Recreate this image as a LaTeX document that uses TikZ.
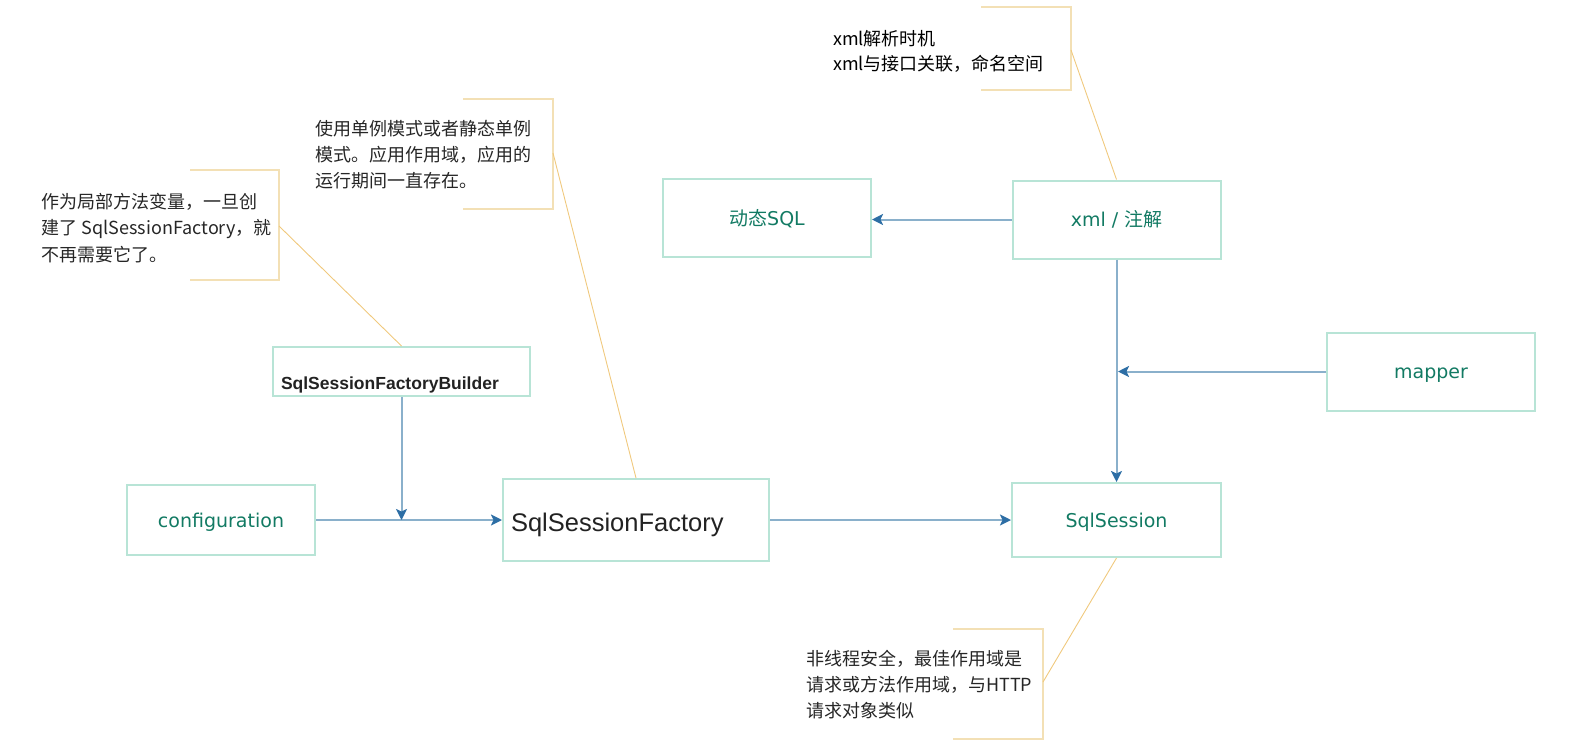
\documentclass[tikz,border=0pt]{standalone}
\usepackage{fontspec}
\setmainfont{DejaVu Sans}
\newfontfamily\cjk{Noto Sans CJK SC}
\newfontfamily\helv{Liberation Sans}
\usetikzlibrary{arrows.meta}
\definecolor{boxgreen}{HTML}{B8E4D6}
\definecolor{labteal}{HTML}{127A63}
\definecolor{lineblue}{HTML}{8AB0CB}
\definecolor{tipblue}{HTML}{2D6EA5}
\definecolor{notebr}{HTML}{F3E0B5}
\definecolor{notecon}{HTML}{F0C97E}
\definecolor{notetxt}{HTML}{262626}
\definecolor{darktxt}{HTML}{222222}
\begin{document}
\begin{tikzpicture}[x=1pt,y=-1pt,
 box/.style={draw=boxgreen,line width=2pt,inner sep=0pt,text=labteal,font=\fontsize{19}{22}\selectfont,text height=18pt,text depth=4pt},
 arr/.style={draw=lineblue,line width=2pt,-{Stealth[length=11pt,width=11pt,inset=2.5pt,color=tipblue]}},
 bracket/.style={draw=notebr,line width=2pt},
 notelink/.style={draw=notecon,line width=0.9pt},
 notetext/.style={anchor=north west,inner sep=0pt,align=left,text=notetxt,font=\cjk\fontsize{18}{26.3}\selectfont}]
\useasboundingbox (0,0) rectangle (1580,750);

% boxes
\node[box,minimum width=188pt,minimum height=70pt] (conf) at (221,520) {configuration};
\node[box,minimum width=257pt,minimum height=49pt,text=darktxt,font=\helv\bfseries\fontsize{17.5}{20}\selectfont,text width=241pt,align=left,text height=36pt,text depth=0pt] (builder) at (401.5,371.5) {SqlSessionFactoryBuilder};
\node[box,minimum width=266pt,minimum height=82pt,text=darktxt,font=\helv\fontsize{25.5}{30}\selectfont,text width=250pt,align=left,text height=26pt,text depth=4pt] (ssf) at (636,520) {SqlSessionFactory};
\node[box,minimum width=209pt,minimum height=74pt] (sqls) at (1116.5,520) {SqlSession};
\node[box,minimum width=208pt,minimum height=78pt] (xml) at (1116.5,219.5) {xml / {\cjk 注解}};
\node[box,minimum width=208pt,minimum height=78pt] (dsql) at (767,218) {{\cjk 动态}SQL};
\node[box,minimum width=208pt,minimum height=78pt] (mapper) at (1431,371.5) {mapper};

% arrows
\coordinate (j1) at (401.5,520);
\coordinate (j2) at (1118,371.5);
\draw[arr] (conf.east) -- (ssf.west);
\draw[arr] (builder.south) -- (j1);
\draw[arr] (ssf.east) -- (sqls.west);
\draw[arr] (xml.west) -- (xml.west -| dsql.east);
\draw[arr] (xml.south) -- (sqls.north);
\draw[arr] (mapper.west) -- (j2);

% note 1
\node[notetext] (n1) at (41.5,193) {作为局部方法变量，一旦创\\建了 SqlSessionFactory，就\\不再需要它了。};
\draw[bracket] (190,170) -| (279,280) -- (190,280);
\coordinate (n1c) at (279,226);
\draw[notelink] (n1c) -- (builder.north);

% note 2
\node[notetext] (n2) at (315.5,120) {使用单例模式或者静态单例\\模式。应用作用域，应用的\\运行期间一直存在。};
\draw[bracket] (463,99) -| (553,209) -- (463,209);
\coordinate (n2c) at (553,153);
\draw[notelink] (n2c) -- (ssf.north);

% note 3
\node[notetext,text=black,font=\cjk\fontsize{18}{25}\selectfont] (n3) at (833,30) {xml解析时机\\xml与接口关联，命名空间};
\draw[bracket] (981,7) -| (1071,90) -- (981,90);
\coordinate (n3c) at (1071,50);
\draw[notelink] (n3c) -- (xml.north);

% note 4
\node[notetext,font=\cjk\fontsize{18}{26}\selectfont] (n4) at (806,650) {非线程安全，最佳作用域是\\请求或方法作用域，与HTTP\\请求对象类似};
\draw[bracket] (953,629) -| (1043,739) -- (953,739);
\coordinate (n4c) at (1043,682);
\draw[notelink] (n4c) -- (sqls.south);
\end{tikzpicture}
\end{document}
